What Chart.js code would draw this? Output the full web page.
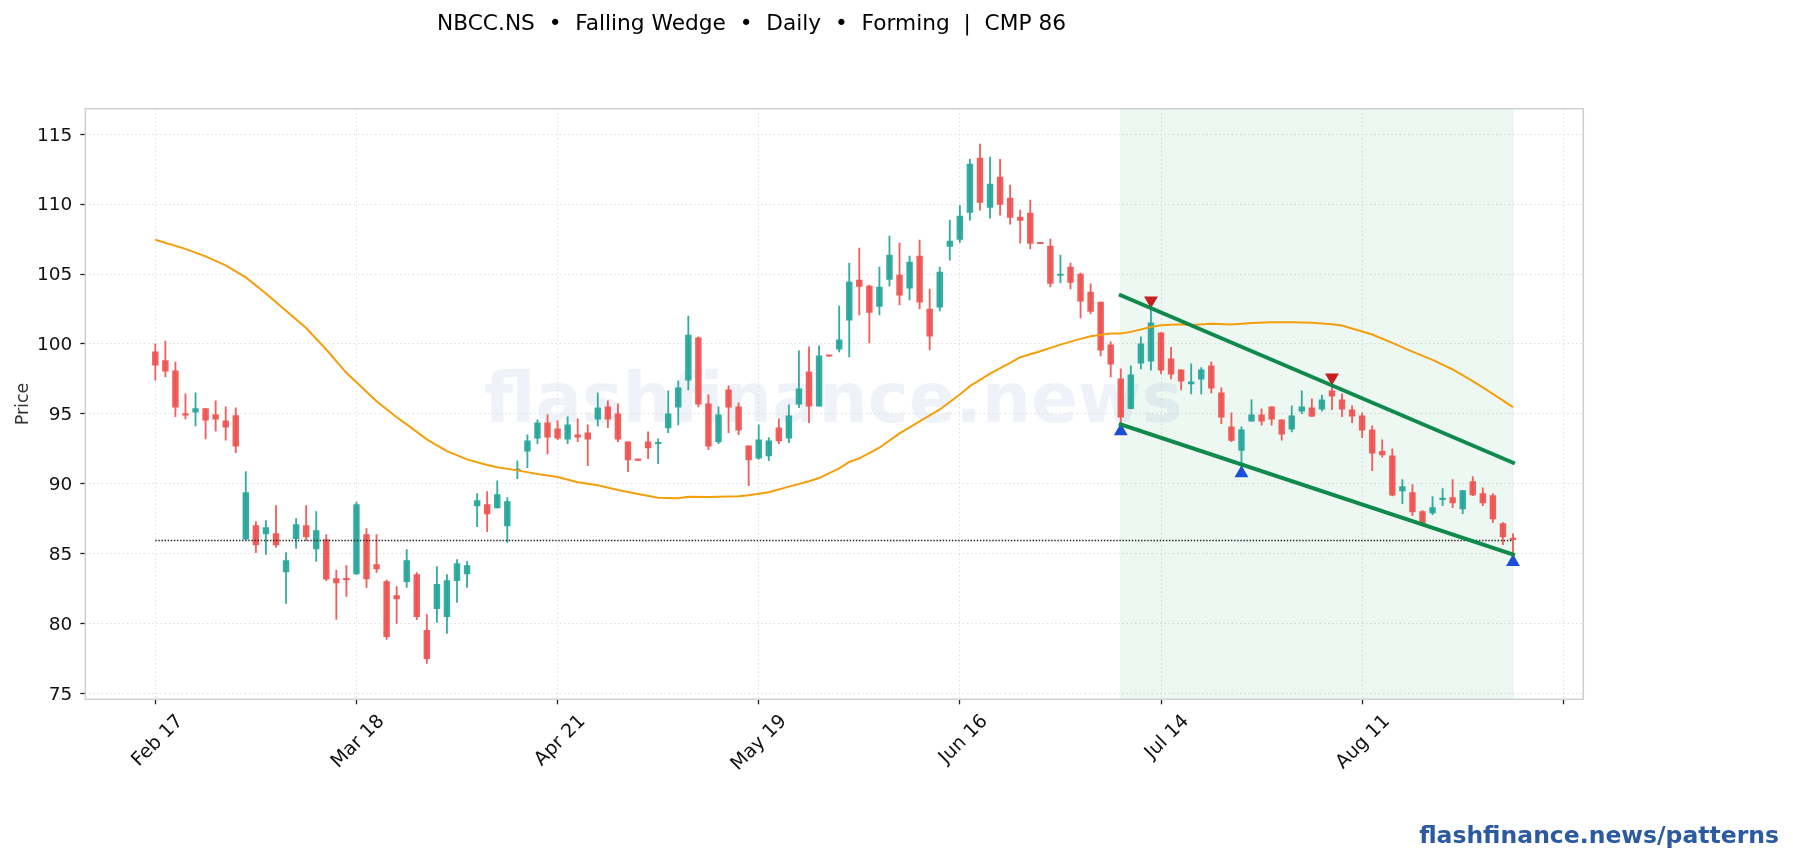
<!DOCTYPE html>
<html>
<head>
<meta charset="utf-8">
<title>NBCC.NS</title>
<script src="https://cdn.jsdelivr.net/npm/chart.js@4"></script>
<style>
    body { margin: 0; background: #ffffff; width: 1793px; height: 860px; overflow: hidden; position: relative; font-family: "DejaVu Sans", sans-serif; }
    canvas { position: absolute; left: 0; top: 0; }
    .texto { position: absolute; white-space: pre; line-height: 1; }
    #titulo { left: 437px; top: 12px; font-size: 21.7px; color: #000000; }
    #marcaAgua { left: 484px; top: 364px; font-size: 69px; font-weight: bold; color: #eff3f9; }
    #pie { right: 14px; top: 824px; font-size: 23.5px; font-weight: bold; color: #2c5aa0; }
</style>
</head>
<body>
<div class="texto" id="marcaAgua">flashfinance.news</div>
<canvas id="grafica" width="1793" height="860"></canvas>
<div class="texto" id="titulo">NBCC.NS  •  Falling Wedge  •  Daily  •  Forming  |  CMP 86</div>
<div class="texto" id="pie">flashfinance.news/patterns</div>
<script>
// Velas, una por sesion
const opens = [
    99.43, 98.8, 98.07, 95.02, 95.12, 95.38, 94.95, 94.5, 94.88, 86.02,
    87, 86.4, 86.43, 83.69, 86.07, 87, 85.33, 86, 83.21, 83.21,
    83.55, 86.36, 84.21, 83, 82, 82.98, 83.5, 79.5, 81.05, 80.48,
    83.05, 83.55, 88.4, 88.5, 88.26, 86.98, 90.95, 92.33, 93.26, 94.36,
    93.93, 93.19, 93.5, 93.64, 94.62, 95.5, 95, 93, 91.7, 93,
    92.86, 93.98, 95.48, 97.4, 100.43, 95.71, 92.98, 96.71, 95.5, 92.71,
    91.83, 91.98, 94, 93.26, 95.69, 98, 95.55, 99.16, 99.62, 101.69,
    104.57, 104.14, 102.69, 104.62, 104.93, 103.98, 106.29, 102.5, 102.62, 106.98,
    107.48, 109.4, 113.29, 109.76, 111.93, 110.43, 109.07, 109.36, 107.21, 107,
    104.9, 105.5, 105, 103.71, 103, 99.93, 97.5, 95.36, 98.62, 98.76,
    100.79, 98.93, 98.14, 97.14, 97.48, 98.43, 96.5, 94.07, 92.38, 94.48,
    94.93, 95.5, 94.57, 93.9, 95.19, 95.43, 95.33, 96.64, 96, 95.29,
    94.86, 93.86, 92.31, 92, 89.48, 89.36, 88, 87.9, 88.86, 89,
    88.19, 90.14, 89.29, 89.14, 87.14, 86.07
];
const highs = [
    100, 100.2, 98.7, 96.43, 96.5, 95.38, 95.93, 95.5, 95.43, 90.86,
    87.29, 87.36, 88.43, 85.07, 87.5, 88.43, 88, 86.36, 83.79, 84.14,
    88.69, 86.79, 86.36, 83.1, 82.64, 85.29, 83.64, 80.64, 84.07, 83.5,
    84.57, 84.43, 89.29, 89.43, 90.21, 89, 91.64, 93.5, 94.57, 94.93,
    94.5, 94.79, 94.64, 94.21, 96.5, 95.93, 95.71, 93, 91.72, 93.71,
    93.21, 96.64, 97.36, 102, 100.5, 96.36, 95.5, 97, 95.79, 92.71,
    94.21, 93.29, 94.64, 95.64, 99.5, 99.79, 99.86, 99.16, 102.71, 105.79,
    106.86, 104.21, 105.5, 107.71, 107.21, 106.29, 107.43, 103.93, 105.5, 108.86,
    109.9, 113.2, 114.29, 113.36, 113.21, 111.36, 109.57, 110.29, 107.21, 107.5,
    106.36, 105.79, 105.07, 104.29, 103, 100.14, 98.21, 98.43, 100.5, 102.45,
    100.79, 99.76, 98.14, 98.57, 98.3, 98.71, 96.86, 95.07, 94.07, 96,
    95.36, 95.5, 94.57, 95.57, 96.64, 96.07, 96.33, 97.2, 96.43, 95.57,
    95.07, 94.14, 93.14, 92.5, 90.29, 89.93, 88.07, 89.07, 89.64, 90.29,
    89.5, 90.5, 89.71, 89.29, 87.21, 86.43
];
const lows = [
    97.4, 97.64, 94.8, 94.64, 94.14, 93.2, 93.76, 93.12, 92.21, 86,
    85.07, 84.93, 85.43, 81.43, 85.36, 85.93, 84.43, 83.05, 80.29, 81.93,
    83.5, 82.55, 83.64, 78.86, 80, 82.57, 80.26, 77.14, 80.07, 79.29,
    81.5, 82.57, 86.93, 86.57, 88.26, 85.79, 90.36, 91.14, 92.86, 92.12,
    93.14, 92.86, 93, 91.29, 94.14, 94, 93, 90.86, 91.65, 91.79,
    91.43, 93.64, 94.21, 96.71, 95.5, 92.43, 92.86, 93.64, 93.5, 89.86,
    91.74, 91.64, 92.86, 92.93, 95.43, 94.36, 95.55, 99.12, 99.43, 99.07,
    102.07, 100.07, 102.07, 104.14, 102.79, 103.14, 102.5, 99.57, 102.36, 106,
    107.26, 108.86, 109.57, 109, 109.21, 108.57, 107.21, 106.79, 107.17, 104.07,
    104.36, 103.93, 101.86, 102.14, 99.14, 97.64, 94.3, 95.36, 98.21, 98.12,
    97.86, 97.5, 96.71, 96.43, 96.43, 96.5, 94.29, 93, 91.2, 94.48,
    94.19, 94.19, 93.12, 93.71, 95, 94.79, 95.19, 95.29, 94.79, 94.36,
    93.29, 90.93, 91.9, 89.12, 88.57, 87.71, 87.1, 87.79, 88.43, 88.29,
    87.86, 89.14, 88.43, 87.21, 85.64, 84.83
];
const closes = [
    98.48, 98.05, 95.48, 94.9, 95.38, 94.55, 94.62, 94.05, 92.69, 89.36,
    85.62, 86.86, 85.62, 84.5, 87.07, 86.19, 86.64, 83.17, 82.9, 83.12,
    88.5, 83.19, 83.9, 79.05, 81.76, 84.5, 80.48, 77.48, 82.79, 83.07,
    84.29, 84.14, 88.79, 87.83, 89.21, 88.71, 91.02, 93.07, 94.36, 93.33,
    93.26, 94.21, 93.33, 93.19, 95.43, 94.62, 93.19, 91.69, 91.67, 92.55,
    92.93, 95, 96.86, 100.64, 95.69, 92.69, 94.93, 95.48, 93.83, 91.69,
    93.14, 93.07, 93.05, 94.86, 96.79, 95.55, 99.14, 99.12, 100.29, 104.43,
    104.12, 102.26, 104.07, 106.36, 103.48, 105.86, 102.98, 100.55, 105.14, 107.36,
    109.14, 112.86, 110.12, 111.43, 109.98, 109.05, 108.83, 107.19, 107.17, 104.33,
    104.95, 104.4, 103.05, 102.33, 99.55, 98.55, 94.76, 97.79, 100, 101.5,
    98.12, 97.83, 97.33, 97.29, 98.14, 96.83, 94.76, 93.1, 93.86, 94.93,
    94.48, 94.62, 93.55, 94.86, 95.5, 94.83, 96, 96.26, 95.33, 94.83,
    93.83, 92.19, 92.05, 89.17, 89.79, 87.98, 87.1, 88.29, 88.93, 88.62,
    89.5, 89.19, 88.62, 87.48, 86.19, 86
];

const mediaSesiones = [
    0, 3, 5, 7, 9, 11, 13, 15, 17, 19, 20, 22, 24, 25, 27, 29, 31, 33, 34, 36, 38, 40, 42, 44, 46, 48,
    50, 52, 53, 55, 58, 59, 61, 63, 65, 66, 68, 69, 70, 72, 74, 76, 78, 80, 81, 83, 85, 86, 88, 90, 92, 93,
    95, 96, 97, 99, 100, 102, 103, 105, 107, 109, 111, 113, 115, 117, 118, 121, 123, 125, 127, 129, 131, 133, 135
];
const mediaValores = [
    107.45, 106.8, 106.26, 105.62, 104.76, 103.6, 102.38, 101.14, 99.6, 97.93, 97.26, 95.9, 94.75, 94.24, 93.17, 92.33, 91.74, 91.33, 91.17, 90.95, 90.69, 90.48, 90.1, 89.88, 89.55, 89.26,
    89, 88.95, 89.07, 89.05, 89.1, 89.17, 89.38, 89.79, 90.17, 90.4, 91.1, 91.55, 91.81, 92.57, 93.6, 94.45, 95.31, 96.38, 96.98, 97.88, 98.64, 99.05, 99.48, 99.95, 100.36, 100.55,
    100.74, 100.74, 100.86, 101.21, 101.33, 101.4, 101.36, 101.45, 101.38, 101.5, 101.55, 101.55, 101.52, 101.4, 101.31, 100.67, 100.07, 99.45, 98.86, 98.17, 97.33, 96.43, 95.48
];

// Patron: lineas de la cuna y pivotes
const patronInicio = 96;
const patronFin = 135;
const lineaSuperior = [103.48, 91.5];
const lineaInferior = [94.24, 84.93];
const pivotesAltosX = [99, 117];
const pivotesAltosY = [103.1, 97.6];
const pivotesBajosX = [96, 108, 135];
const pivotesBajosY = [93.75, 90.75, 84.39];
const precioActual = 85.93;

// Ejes
const ticksX = [0, 20, 40, 60, 80, 100, 120, 140];
const etiquetasX = ["Feb 17", "Mar 18", "Apr 21", "May 19", "Jun 16", "Jul 14", "Aug 11", ""];
const ticksY = [75, 80, 85, 90, 95, 100, 105, 110, 115];

const ROJO = "rgba(239, 83, 80, 0.92)";
const VERDE = "rgba(38, 166, 154, 0.92)";
const colores = opens.map((o, i) => closes[i] >= o ? VERDE : ROJO);

// Sombra del patron y marco completo del area
const pluginFondo = {
    id: "fondo",
    beforeDatasetsDraw(chart) {
        const x = chart.scales.x;
        const area = chart.chartArea;
        const ctx = chart.ctx;
        const x0 = x.getPixelForValue(patronInicio);
        const x1 = x.getPixelForValue(patronFin);
        ctx.save();
        ctx.fillStyle = "rgba(16, 150, 80, 0.07)";
        ctx.strokeStyle = "rgba(16, 150, 80, 0.07)";
        ctx.fillRect(x0, area.top, x1 - x0, area.bottom - area.top);
        ctx.strokeRect(x0, area.top, x1 - x0, area.bottom - area.top);
        ctx.restore();
    },
    afterDraw(chart) {
        const area = chart.chartArea;
        const ctx = chart.ctx;
        ctx.save();
        ctx.strokeStyle = "#cfcfcf";
        ctx.lineWidth = 1.5;
        ctx.strokeRect(area.left, area.top, area.right - area.left, area.bottom - area.top);
        ctx.restore();
    }
};

function zip(xs, ys) {
    return xs.map((x, i) => ({ x: x, y: ys[i] }));
}

// Opciones comunes de rejilla punteada con marcas solidas
function rejilla() {
    return {
        offset: false,
        color: "#dcdcdc",
        lineWidth: 1,
        tickColor: "#222222",
        tickLength: 5,
        tickWidth: 1.3,
        tickBorderDash: [20, 0]
    };
}

new Chart(document.getElementById("grafica"), {
    type: "bar",
    data: {
        datasets: [
            // las primeras en pintarse son las de order mas alto
            {
                type: "line",
                order: 1,
                data: zip([patronInicio, patronFin], lineaSuperior),
                borderColor: "#0f8a4b",
                borderWidth: 4,
                borderCapStyle: "square",
                pointRadius: 0
            },
            {
                type: "line",
                order: 1,
                data: zip([patronInicio, patronFin], lineaInferior),
                borderColor: "#0f8a4b",
                borderWidth: 4,
                borderCapStyle: "square",
                pointRadius: 0
            },
            {
                type: "line",
                order: 2,
                data: zip(pivotesAltosX, pivotesAltosY),
                showLine: false,
                pointStyle: "triangle",
                rotation: 180,
                pointRadius: 8,
                pointBackgroundColor: "#c81e1e",
                pointBorderWidth: 0
            },
            {
                type: "line",
                order: 2,
                data: zip(pivotesBajosX, pivotesBajosY),
                showLine: false,
                pointStyle: "triangle",
                pointRadius: 8,
                pointBackgroundColor: "#1d4ed8",
                pointBorderWidth: 0
            },
            {
                type: "line",
                order: 3,
                data: zip(mediaSesiones, mediaValores),
                borderColor: "#f59e0b",
                borderWidth: 2,
                pointRadius: 0,
                tension: 0
            },
            {
                type: "line",
                order: 3,
                data: zip([0, patronFin], [precioActual, precioActual]),
                borderColor: "#222222",
                borderWidth: 1.4,
                borderDash: [1.4, 1.7],
                pointRadius: 0
            },
            {
                // cuerpo de las velas
                order: 4,
                grouped: false,
                data: opens.map((o, i) => ({ x: i, y: [o, closes[i]] })),
                backgroundColor: colores,
                borderWidth: 0,
                barThickness: 5.8,
                minBarLength: 1.4
            },
            {
                // mechas
                order: 5,
                grouped: false,
                data: highs.map((h, i) => ({ x: i, y: [lows[i], h] })),
                backgroundColor: colores,
                borderWidth: 0,
                barThickness: 1.2
            }
        ]
    },
    options: {
        responsive: false,
        animation: false,
        layout: { padding: { left: 0, top: 108.7, right: 209.7, bottom: 60.7 } },
        plugins: { legend: { display: false }, tooltip: { enabled: false } },
        scales: {
            x: {
                type: "linear",
                offset: false,
                min: -6.96,
                max: 141.99,
                afterFit(scale) { scale.height = 100; },
                afterBuildTicks(scale) { scale.ticks = ticksX.map(v => ({ value: v })); },
                border: { display: false, dash: [1.4, 2.8] },
                grid: rejilla(),
                ticks: {
                    autoSkip: false,
                    minRotation: 45,
                    maxRotation: 45,
                    padding: 6,
                    labelOffset: 25,
                    color: "#111111",
                    font: { family: "DejaVu Sans", size: 19 },
                    callback(value) { return etiquetasX[ticksX.indexOf(value)]; }
                }
            },
            y: {
                min: 74.57,
                max: 116.83,
                afterFit(scale) { scale.width = 85.3; },
                afterBuildTicks(scale) { scale.ticks = ticksY.map(v => ({ value: v })); },
                border: { display: false, dash: [1.4, 2.8] },
                grid: rejilla(),
                ticks: {
                    padding: 8,
                    labelOffset: 1.5,
                    color: "#111111",
                    font: { family: "DejaVu Sans", size: 18.5 }
                },
                title: {
                    display: true,
                    text: "Price",
                    color: "#333333",
                    padding: { top: 13, bottom: 0 },
                    font: { family: "DejaVu Sans", size: 17.5 }
                }
            }
        }
    },
    plugins: [pluginFondo]
});
</script>
</body>
</html>
